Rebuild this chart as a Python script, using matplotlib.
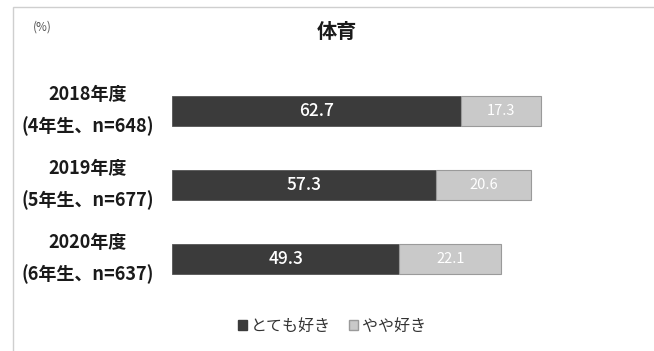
import matplotlib
matplotlib.use("Agg")
import matplotlib.pyplot as plt
from matplotlib.patches import Patch, Rectangle
from matplotlib.transforms import blended_transform_factory

plt.rcParams["font.family"] = ["Noto Sans CJK JP", "DejaVu Sans"]

# data
years = ["2018年度", "2019年度", "2020年度"]
groups = ["(4年生、n=648)", "(5年生、n=677)", "(6年生、n=637)"]
very_like = [62.7, 57.3, 49.3]
somewhat_like = [17.3, 20.6, 22.1]
series_names = ["とても好き", "やや好き"]

DARK = "#3b3b3b"
LIGHT = "#c9c9c9"
EDGE = "#9a9a9a"
TEXT = "#1a1a1a"

W, H = 654, 351
fig = plt.figure(figsize=(W / 100, H / 100), dpi=100, facecolor="white")

# outer frame of the chart area
fig.patches.append(Rectangle((13 / W, -0.05), 1.0, 1 - 7 / H + 0.05,
                             transform=fig.transFigure, fill=False,
                             edgecolor="#cfcfcf", linewidth=1.0))

ax = fig.add_axes([172 / W, 1 - 296 / H, 461 / W, 222 / H])
ypos = list(range(len(years)))
ax.barh(ypos, very_like, height=0.4, color=DARK, edgecolor="#555555", linewidth=0.6)
ax.barh(ypos, somewhat_like, left=very_like, height=0.4, color=LIGHT,
        edgecolor=EDGE, linewidth=0.8)
ax.set_xlim(0, 100)
ax.set_ylim(2.5, -0.5)
ax.axis("off")

for y, a, b in zip(ypos, very_like, somewhat_like):
    ax.text(a / 2, y, f"{a:.1f}", ha="center", va="center", color="white",
            fontsize=12.5, fontweight="medium")
    ax.text(a + b / 2, y, f"{b:.1f}", ha="center", va="center", color="white",
            fontsize=10.5)

# category labels on the left
tr = blended_transform_factory(fig.transFigure, ax.transData)
for y, yr, grp in zip(ypos, years, groups):
    ax.text(88 / W, y - 0.22, yr, transform=tr, ha="center", va="center",
            fontsize=13, fontweight="bold", color=TEXT)
    ax.text(88 / W, y + 0.21, grp, transform=tr, ha="center", va="center",
            fontsize=13, fontweight="bold", color=TEXT)

fig.text(337 / W, 1 - 32 / H, "体育", ha="center", va="center",
         fontsize=14.5, fontweight="bold", color=TEXT)
fig.text(42 / W, 1 - 27 / H, "(%)", ha="center", va="center",
         fontsize=8.5, color="#555555")

handles = [Patch(facecolor=DARK, edgecolor=DARK),
           Patch(facecolor=LIGHT, edgecolor=EDGE)]
fig.legend(handles, series_names, loc="center", bbox_to_anchor=(332 / W, 1 - 326 / H),
           ncol=2, frameon=False, fontsize=11.5, handlelength=0.55, handleheight=0.55,
           handletextpad=0.25, columnspacing=1.1, labelcolor="#333333")

fig.savefig("out.png", dpi=100, facecolor="white")
